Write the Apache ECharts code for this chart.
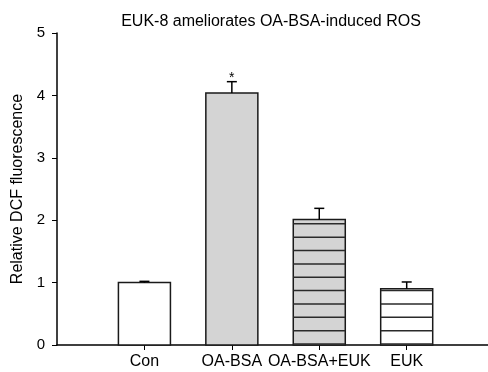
<!DOCTYPE html>
<html>
<head>
<meta charset="utf-8">
<script src="https://cdn.jsdelivr.net/npm/echarts@6/dist/echarts.min.js"></script>
<style>
html,body{margin:0;padding:0;background:#fff;}
#chart{width:488px;height:372px;}
</style>
</head>
<body>
<div id="chart"></div>
<script>
// ---- data ----
const categories = ['Con', 'OA-BSA', 'OA-BSA+EUK', 'EUK'];
const means = [1.00, 4.04, 2.01, 0.90];
const errors = [0.02, 0.18, 0.18, 0.11];
const significance = ['', '*', '', ''];
const yTicks = [0, 1, 2, 3, 4, 5];
const titleText = 'EUK-8 ameliorates OA-BSA-induced ROS';
const yAxisTitle = 'Relative DCF fluorescence';

// ---- styles (not data) ----
const barFills = ['#ffffff', '#d4d4d4', '#d4d4d4', '#ffffff'];
const barHatched = [false, false, true, true];
const FONT = 'Liberation Sans, Arial, sans-serif';

const positions = categories.map((c, i) => i + 1);
const barData = categories.map((c, i) => [positions[i], means[i], i]);
const errData = categories.map((c, i) => [positions[i], means[i], errors[i], i]);

function renderBar(params, api) {
  const xv = api.value(0), v = api.value(1), idx = api.value(2);
  const base = api.coord([xv, 0]);
  const top = api.coord([xv, v]);
  const w = api.size([1, 0])[0] * 0.595;
  const x = base[0] - w / 2;
  const children = [{
    type: 'rect',
    shape: { x: x, y: top[1], width: w, height: base[1] - top[1] },
    style: { fill: barFills[idx], stroke: '#1a1a1a', lineWidth: 1.5 }
  }];
  if (barHatched[idx]) {
    const step = 13.35;
    for (let y = base[1] - 1; y > top[1] + 1; y -= step) {
      children.push({
        type: 'line',
        shape: { x1: x, y1: y, x2: x + w, y2: y },
        style: { stroke: '#2a2a2a', lineWidth: 1.5 }
      });
    }
  }
  return { type: 'group', children: children };
}

function renderErr(params, api) {
  const xv = api.value(0), v = api.value(1), e = api.value(2), idx = api.value(3);
  const top = api.coord([xv, v]);
  const cap = api.coord([xv, v + e]);
  const cw = 10;
  const children = [
    { type: 'line', shape: { x1: top[0], y1: top[1], x2: cap[0], y2: cap[1] }, style: { stroke: '#000', lineWidth: 1.5 } },
    { type: 'line', shape: { x1: cap[0] - cw / 2, y1: cap[1], x2: cap[0] + cw / 2, y2: cap[1] }, style: { stroke: '#000', lineWidth: 1.5 } }
  ];
  if (significance[idx]) {
    children.push({
      type: 'text',
      style: { text: significance[idx], x: cap[0], y: cap[1] - 11, align: 'center', verticalAlign: 'top', font: '14px ' + FONT, fill: '#000' }
    });
  }
  return { type: 'group', children: children };
}

const chart = echarts.init(document.getElementById('chart'), null, { renderer: 'canvas' });
chart.setOption({
  animation: false,
  backgroundColor: '#fff',
  title: {
    text: titleText,
    left: 266, top: 9, textAlign: 'center',
    textStyle: { fontFamily: FONT, fontSize: 16, fontWeight: 'normal', color: '#000' }
  },
  grid: { left: 57, right: 0, top: 33, bottom: 27, containLabel: false },
  xAxis: {
    type: 'value', min: 0, max: 4.93,
    splitLine: { show: false },
    axisLine: { show: true, lineStyle: { color: '#000', width: 1.5 } },
    axisTick: { show: true, length: 5, lineStyle: { color: '#000', width: 1 }, customValues: positions },
    axisLabel: {
      show: true, customValues: positions, margin: 9,
      formatter: v => categories[Math.round(v) - 1] || '',
      fontFamily: FONT, fontSize: 16, color: '#000'
    }
  },
  yAxis: {
    type: 'value', min: 0, max: 5, interval: 1,
    name: yAxisTitle, nameLocation: 'middle', nameGap: 27,
    nameTextStyle: { fontFamily: FONT, fontSize: 16, color: '#000' },
    splitLine: { show: false },
    axisLine: { show: true, lineStyle: { color: '#000', width: 1.5 } },
    axisTick: { show: true, length: 5, lineStyle: { color: '#000', width: 1 } },
    axisLabel: {
      margin: 12, fontFamily: FONT, fontSize: 15, color: '#000',
      formatter: v => yTicks.indexOf(v) >= 0 ? String(v) : ''
    }
  },
  series: [
    { type: 'custom', renderItem: renderBar, data: barData, encode: { x: 0, y: 1 }, z: 2 },
    { type: 'custom', renderItem: renderErr, data: errData, encode: { x: 0, y: [1, 2] }, z: 3 }
  ]
});
</script>
</body>
</html>
